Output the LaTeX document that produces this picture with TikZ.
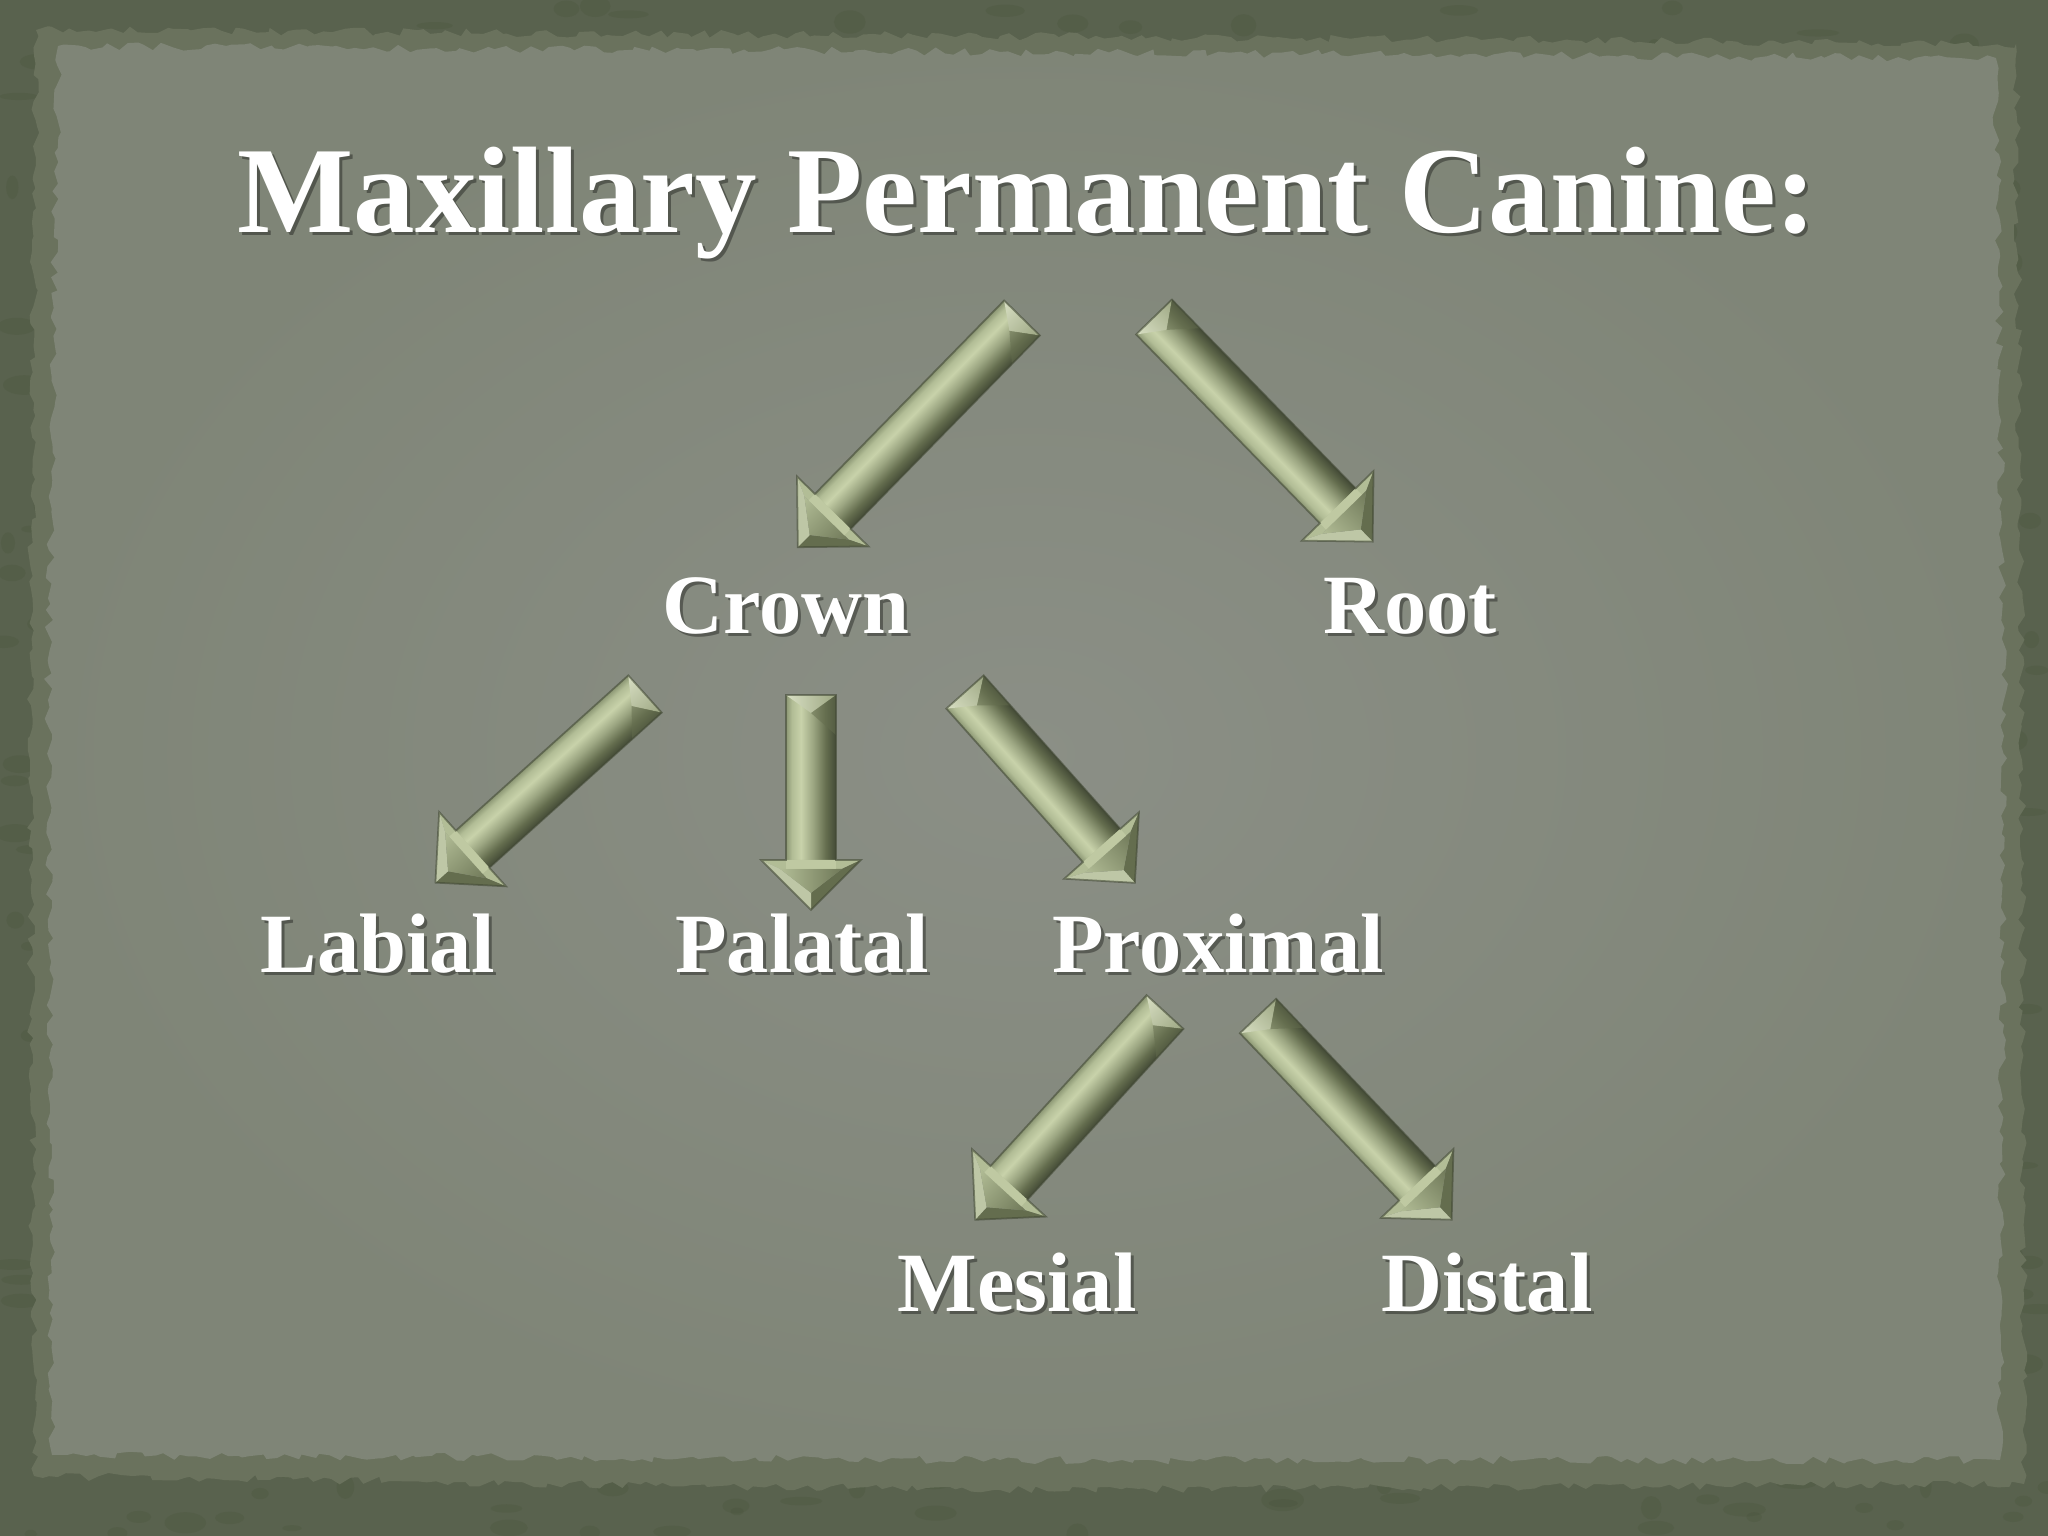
\documentclass[tikz,border=0pt]{standalone}
\usepackage{fontspec}
\setmainfont{Liberation Serif}
\usetikzlibrary{decorations.pathmorphing,calc}
\definecolor{frame}{HTML}{59624E}
\definecolor{framedark}{HTML}{465036}
\definecolor{fringe}{HTML}{6A725D}
\definecolor{paper}{HTML}{8B8F86}
\definecolor{paperedge}{HTML}{7F8577}
\definecolor{arA}{HTML}{8C9774}
\definecolor{arB}{HTML}{B2BD96}
\definecolor{arC}{HTML}{C8D2AA}
\definecolor{arD}{HTML}{9CA682}
\definecolor{arE}{HTML}{646D4E}
\definecolor{arF}{HTML}{434A36}
\pgfdeclareverticalshading{armshaft}{100bp}{color(0bp)=(arA); color(25bp)=(arA); color(31bp)=(arB); color(40bp)=(arC); color(52bp)=(arD); color(65bp)=(arE); color(75bp)=(arF); color(100bp)=(arF)}
\tikzset{
  lbl/.style={text=white, font=\bfseries\fontsize{24pt}{28pt}\selectfont, anchor=base, inner sep=0pt},
  ttl/.style={text=white, font=\bfseries\fontsize{35pt}{40pt}\selectfont, anchor=base, inner sep=0pt},
  shd/.style={text=black, opacity=0.35},
  torn/.style={decorate, decoration={random steps, segment length=2.5pt, amplitude=1.2pt}},
  headback/.style={fill=arB},
  headdark/.style={fill=arE},
  headlight/.style={fill=arB!85!white},
  outl/.style={draw=arF, line width=0.5pt, opacity=0.6}
}
\newcommand\shadowlabel[4]{% name, position, style, text
  \node[#3, shd] (#1-shadow) at ($(#2)+(3,3)$) {#4};
  \node[#3] (#1) at (#2) {#4};
}
\newcommand\bevelarrow[2]{% tail, tip
  \path (#1); \pgfgetlastxy{\axx}{\ayy}
  \path (#2); \pgfgetlastxy{\bxx}{\byy}
  \pgfmathsetmacro\arang{atan2(\byy-\ayy,\bxx-\axx)}%
  \pgfmathsetmacro\arlen{veclen(\bxx-\axx,\byy-\ayy)/0.284528}%
  \pgfmathsetmacro\arls{\arlen-50}%
  \begin{scope}[transform canvas={shift={(\axx,\ayy)},rotate=\arang},x=0.01cm,y=0.01cm]
    \shade[shading=armshaft] (0,-25) rectangle (\arls+2,25);
    \shade[top color=arD, bottom color=arC!70!white] (0,-25) -- (0,25) -- (18,0) -- cycle;
    \fill[arE, opacity=0.5] (0,25) -- (18,0) -- (40,25) -- cycle;
    \fill[headback] (\arls,50) -- (\arls,-50) -- (\arls+9,-31) -- (\arls+9,31) -- cycle;
    \fill[headdark] (\arls,50) -- (\arlen,0) -- (\arlen-17,0) -- (\arls+9,31) -- cycle;
    \fill[headlight] (\arls,-50) -- (\arlen,0) -- (\arlen-17,0) -- (\arls+9,-31) -- cycle;
    \shade[top color=arE!80!arD, bottom color=arB] (\arls+9,31) -- (\arlen-17,0) -- (\arls+9,-31) -- cycle;
    \fill[arC, opacity=0.6] (\arls,25) -- (\arls+9,25) -- (\arls+9,-25) -- (\arls,-25) -- cycle;
    \draw[outl] (0,25) -- (\arls,25) -- (\arls,50) -- (\arlen,0) -- (\arls,-50) -- (\arls,-25) -- (0,-25) -- cycle;
  \end{scope}
}
\begin{document}
\begin{tikzpicture}[x=0.01cm,y=-0.01cm]
\useasboundingbox (0,0) rectangle (2048,1536);
\fill[frame] (0,0) rectangle (2048,1536);
\pgfmathsetseed{42}
\foreach \i in {1,...,700}{
  \pgfmathsetmacro\rx{rnd*2048}
  \pgfmathsetmacro\ry{rnd*1536}
  \pgfmathsetmacro\rr{3+rnd*9}
  \pgfmathsetmacro\rq{3+rnd*9}
  \fill[framedark, opacity=0.22] (\rx,\ry) ellipse ({\rr*1.8} and \rq);
}
\fill[fringe, torn] (36,30) -- (1000,36) -- (2016,44) -- (2022,760) -- (2024,1484) -- (1000,1490) -- (34,1476) -- (30,760) -- cycle;
\shade[inner color=paper, outer color=paperedge, torn] (58,46) -- (1000,52) -- (1996,58) -- (2004,700) -- (2000,1460) -- (1000,1460) -- (52,1455) -- (48,700) -- cycle;

\coordinate (ptitle) at (1027,232);
\coordinate (pcrown) at (786,633);
\coordinate (proot) at (1410,633);
\coordinate (plabial) at (378,972);
\coordinate (ppalatal) at (802,972);
\coordinate (pproximal) at (1218,972);
\coordinate (pmesial) at (1017,1311);
\coordinate (pdistal) at (1487,1311);
\shadowlabel{title}{ptitle}{ttl}{Maxillary Permanent Canine:}
\shadowlabel{crown}{pcrown}{lbl}{Crown}
\shadowlabel{root}{proot}{lbl}{Root}
\shadowlabel{labial}{plabial}{lbl}{Labial}
\shadowlabel{palatal}{ppalatal}{lbl}{Palatal}
\shadowlabel{proximal}{pproximal}{lbl}{Proximal}
\shadowlabel{mesial}{pmesial}{lbl}{Mesial}
\shadowlabel{distal}{pdistal}{lbl}{Distal}

\coordinate (a1s) at (1022,318);  \coordinate (a1e) at (797,548);
\coordinate (a2s) at (1154,317);  \coordinate (a2e) at (1373,542);
\coordinate (a3s) at (645,694);   \coordinate (a3e) at (435,883);
\coordinate (a4s) at (811,695);   \coordinate (a4e) at (811,910);
\coordinate (a5s) at (965,692);   \coordinate (a5e) at (1135,883);
\coordinate (a6s) at (1165,1012); \coordinate (a6e) at (975,1220);
\coordinate (a7s) at (1258,1016); \coordinate (a7e) at (1452,1220);
\bevelarrow{a1s}{a1e}
\bevelarrow{a2s}{a2e}
\bevelarrow{a3s}{a3e}
\bevelarrow{a4s}{a4e}
\bevelarrow{a5s}{a5e}
\bevelarrow{a6s}{a6e}
\bevelarrow{a7s}{a7e}
\end{tikzpicture}
\end{document}
